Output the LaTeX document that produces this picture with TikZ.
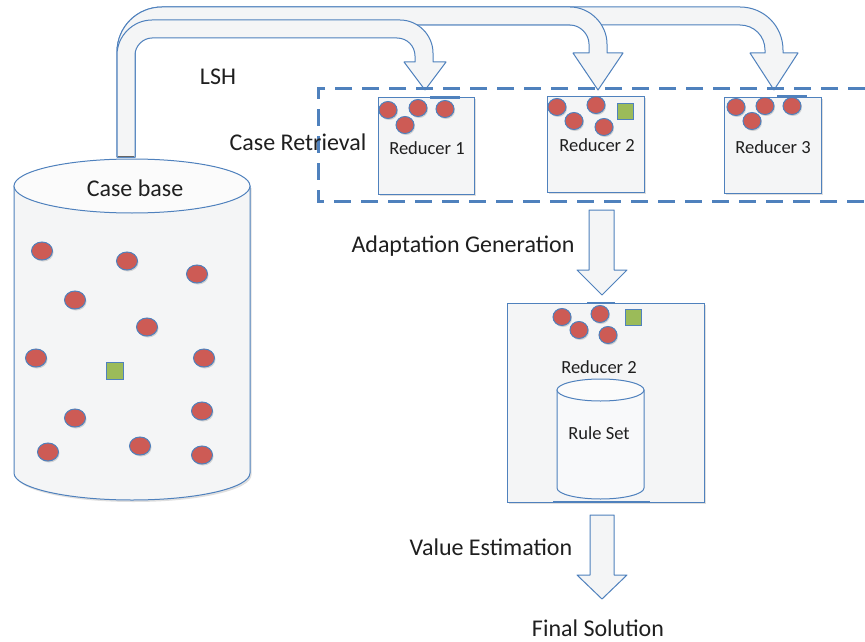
\documentclass[tikz,border=0pt]{standalone}
\usepackage{fontspec}
\setmainfont{Carlito}
\usetikzlibrary{shapes.geometric,shadows}
\definecolor{edgeblue}{HTML}{4F81BD}
\definecolor{fillgray}{HTML}{F4F5F6}
\definecolor{dotred}{HTML}{CD5B55}
\definecolor{sqgreen}{HTML}{9BBB59}
\definecolor{txt}{HTML}{1F1F1F}
\tikzset{
  arrowshape/.style={draw=edgeblue, fill=fillgray, line width=1pt, line join=round},
  rbox/.style={draw=edgeblue, fill=fillgray, line width=1pt, inner sep=0pt,
    drop shadow={shadow xshift=1.5pt, shadow yshift=-1.5pt, opacity=0.25}},
  dot/.style={ellipse, draw=edgeblue, fill=dotred, line width=1pt, inner sep=0pt,
    minimum width=18pt, minimum height=17pt,
    drop shadow={shadow xshift=1pt, shadow yshift=-1.5pt, opacity=0.3}},
  bigdot/.style={dot, minimum width=21pt, minimum height=18pt},
  sq/.style={rectangle, draw=edgeblue, fill=sqgreen, line width=1pt, inner sep=0pt,
    minimum size=16pt},
  lbl/.style={text=txt, font=\fontsize{24}{28}\selectfont, inner sep=0pt},
  small/.style={text=txt, font=\fontsize{18.5}{22}\selectfont, inner sep=0pt},
  dashbox/.style={draw=edgeblue, line width=3pt, dash pattern=on 17pt off 10pt},
  cyl/.style={draw=edgeblue, fill=fillgray, line width=1pt},
  hl/.style={draw=edgeblue, line width=2.5pt}
}
\begin{document}
\begin{tikzpicture}[x=1pt,y=-1pt]
\useasboundingbox[fill=white] (0,0) rectangle (865,642);

% ---------- Case base cylinder ----------
\path[cyl, drop shadow={shadow xshift=1.5pt, shadow yshift=-2pt, opacity=0.25}]
  (14,186) -- (14,473) .. controls +(0,14.9) and +(-65.2,0) .. (132,500)
  .. controls +(65.2,0) and +(0,14.9) .. (250,473) -- (250,186) -- cycle;
\draw[cyl, fill=white!60!fillgray] (132,186) ellipse [x radius=118, y radius=27];
\node[lbl] (cbtext) at (135,188) {Case base};

\node[bigdot] (c1) at (42,251) {};
\node[bigdot] (c2) at (127,261) {};
\node[bigdot] (c3) at (197,274) {};
\node[bigdot] (c4) at (75,300) {};
\node[bigdot] (c5) at (147,327) {};
\node[bigdot] (c6) at (36,358) {};
\node[bigdot] (c7) at (204,358) {};
\node[bigdot] (c8) at (75,418) {};
\node[bigdot] (c9) at (202,411) {};
\node[bigdot] (c10) at (48,452) {};
\node[bigdot] (c11) at (140,446) {};
\node[bigdot] (c12) at (202,455) {};
\node[sq, minimum size=17pt] (cq) at (115,371) {};

% ---------- Bent arrows (LSH) ----------
% to Reducer 3
\path[arrowshape]
  (117,157) -- (117,52) .. controls +(0,-25) and +(-25,0) .. (162,7)
  -- (740,7) .. controls +(24,0) and +(0,-24) .. (783,50)
  -- (783,53) -- (798,53) -- (774,90) -- (750,53) -- (765,53) -- (765,50)
  .. controls +(0,-14) and +(14,0) .. (740,25)
  -- (162,25) .. controls +(-15,0) and +(0,-15) .. (135,52) -- (135,157) -- cycle;
% to Reducer 2
\path[arrowshape]
  (117,157) -- (117,52) .. controls +(0,-25) and +(-25,0) .. (162,7)
  -- (570,7) .. controls +(20,0) and +(0,-20) .. (607,44)
  -- (607,53) -- (623,53) -- (598,90) -- (573,53) -- (589,53) -- (589,44)
  .. controls +(0,-10) and +(10,0) .. (570,25)
  -- (162,25) .. controls +(-15,0) and +(0,-15) .. (135,52) -- (135,157) -- cycle;
% to Reducer 1
\path[arrowshape]
  (117,157) -- (117,55) .. controls +(0,-19) and +(-19,0) .. (152,20)
  -- (400,20) .. controls +(18,0) and +(0,-18) .. (433,53)
  -- (433,62) -- (446,62) -- (425,90) -- (404,62) -- (415,62) -- (415,56)
  .. controls +(0,-10) and +(10,0) .. (397,38)
  -- (152,38) .. controls +(-9,0) and +(0,-9) .. (135,55) -- (135,157) -- cycle;
\draw[draw=black!60, line width=1.5pt] (118,156.5) -- (134,156.5);
\node[lbl] (lsh) at (218,77) {LSH};

% ---------- Case retrieval ----------
\draw[dashbox] (865,89) -- (318,89) -- (318,201) -- (865,201);
\node[lbl] (cr) at (298,142) {Case Retrieval};

\node[rbox, minimum width=96pt, minimum height=97pt] (r1) at (426,145.5) {};
\node[rbox, minimum width=97pt, minimum height=96pt] (r2) at (595.5,144) {};
\node[rbox, minimum width=97pt, minimum height=96pt] (r3) at (772.5,145) {};
\draw[hl] (430,97.5) -- (460,97.5);
\draw[hl] (777,96.5) -- (807,96.5);

\node[dot] (a1) at (388,110) {};
\node[dot] (a2) at (405,125) {};
\node[dot] (a3) at (418,108) {};
\node[dot] (a4) at (445,109) {};
\node[small] (r1t) at (427,148) {Reducer 1};

\node[dot] (b1) at (557,107) {};
\node[dot] (b2) at (574,121) {};
\node[dot] (b3) at (596,105) {};
\node[dot] (b4) at (604,127) {};
\node[sq] (bq) at (625,111) {};
\node[small] (r2t) at (597,145) {Reducer 2};

\node[dot] (d1) at (736,107) {};
\node[dot] (d2) at (752,121) {};
\node[dot] (d3) at (765,106) {};
\node[dot] (d4) at (792,106) {};
\node[small] (r3t) at (773,147) {Reducer 3};

% ---------- Adaptation generation ----------
\path[arrowshape] (589,210) -- (614,210) -- (614,270) -- (627,270) -- (602,295)
  -- (577,270) -- (589,270) -- cycle;
\node[lbl] (ag) at (463,246) {Adaptation Generation};

% ---------- Reducer 2 with rule set ----------
\node[rbox, minimum width=197pt, minimum height=199pt] (big) at (605.5,402.5) {};
\draw[hl] (587,303) -- (615,303);
\node[dot] (e1) at (562,317) {};
\node[dot] (e2) at (579,330) {};
\node[dot] (e3) at (600,314) {};
\node[dot] (e4) at (608,335) {};
\node[sq] (eq) at (633,317) {};
\node[small] (bigt) at (599,367) {Reducer 2};

\path[cyl, fill=white!40!fillgray]
  (557,390) -- (557,488) .. controls +(0,6) and +(-24,0) .. (600.5,499)
  .. controls +(24,0) and +(0,6) .. (644,488) -- (644,390) -- cycle;
\draw[cyl, fill=white!60!fillgray] (600.5,390) ellipse [x radius=43.5, y radius=11];
\node[small] (rs) at (599,433) {Rule Set};
\draw[hl] (553,502) -- (650,502);

% ---------- Value estimation ----------
\path[arrowshape] (590,515) -- (614,515) -- (614,575) -- (627,575) -- (602,599)
  -- (577,575) -- (590,575) -- cycle;
\node[lbl] (ve) at (491,547) {Value Estimation};
\node[lbl] (fs) at (598,628) {Final Solution};
\end{tikzpicture}
\end{document}
